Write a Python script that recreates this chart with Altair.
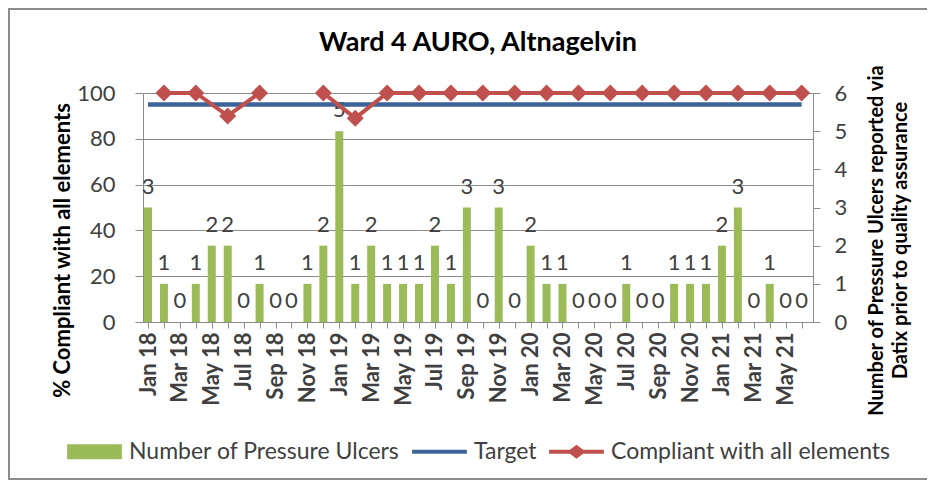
import altair as alt
import pandas as pd

months = ["Jan 18", "Feb 18", "Mar 18", "Apr 18", "May 18", "Jun 18", "Jul 18", "Aug 18",
          "Sep 18", "Oct 18", "Nov 18", "Dec 18",
          "Jan 19", "Feb 19", "Mar 19", "Apr 19", "May 19", "Jun 19", "Jul 19", "Aug 19",
          "Sep 19", "Oct 19", "Nov 19", "Dec 19",
          "Jan 20", "Feb 20", "Mar 20", "Apr 20", "May 20", "Jun 20", "Jul 20", "Aug 20",
          "Sep 20", "Oct 20", "Nov 20", "Dec 20",
          "Jan 21", "Feb 21", "Mar 21", "Apr 21", "May 21", "Jun 21"]

ulcers = [3, 1, 0, 1, 2, 2, 0, 1, 0, 0, 1, 2,
          5, 1, 2, 1, 1, 1, 2, 1, 3, 0, 3, 0,
          2, 1, 1, 0, 0, 0, 1, 0, 0, 1, 1, 1,
          2, 3, 0, 1, 0, 0]

comp_months = ["Feb 18", "Apr 18", "Jun 18", "Aug 18", "Oct 18", "Dec 18",
               "Feb 19", "Apr 19", "Jun 19", "Aug 19", "Oct 19", "Dec 19",
               "Feb 20", "Apr 20", "Jun 20", "Aug 20", "Oct 20", "Dec 20",
               "Feb 21", "Apr 21", "Jun 21"]
comp_values = [100, 100, 90, 100, None, 100,
               89, 100, 100, 100, 100, 100,
               100, 100, 100, 100, 100, 100,
               100, 100, 100]

target_months = ["Jan 18", "Jun 21"]
target_values = [95, 95]

series = ["Number of Pressure Ulcers", "Target", "Compliant with all elements"]
series_colors = ["#9BBB59", "#3C6499", "#C0504D"]
series_shapes = [
    "M-1,-0.27L1,-0.27L1,0.27L-1,0.27Z",
    "M-1,-0.07L1,-0.07L1,0.07L-1,0.07Z",
    "M-1,-0.07L-0.24,-0.07L0,-0.26L0.24,-0.07L1,-0.07L1,0.07L0.24,0.07L0,0.26L-0.24,0.07L-1,0.07Z",
]

FONT = "Lato"
GRAY = "#404040"
AXISGRAY = "#8C8C8C"

bar_df = pd.DataFrame({"idx": list(range(len(months))), "month": months, "count": ulcers})

rows = []
seg = 0
for m, v in zip(comp_months, comp_values):
    if v is None:
        seg += 1
        continue
    rows.append({"idx": months.index(m), "month": m, "pct": v, "seg": seg})
comp_df = pd.DataFrame(rows)

target_df = pd.DataFrame({"idx": [months.index(m) for m in target_months], "pct": target_values})
legend_df = pd.DataFrame({"series": series, "idx": [-10] * 3, "pct": [50] * 3})

label_array = "[" + ",".join("'" + m + "'" for m in months) + "]"
xscale = alt.Scale(domain=[0, 41.4], nice=False, zero=False)
xaxis = alt.Axis(
    values=list(range(len(months))),
    labelExpr="datum.value % 2 == 0 ? " + label_array + "[datum.value] : ''",
    labelAngle=270, labelAlign="right", labelBaseline="middle",
    labelFont=FONT, labelFontSize=22, labelFontWeight="bold", labelColor=GRAY,
    labelPadding=4, labelOverlap=False, labelFlush=False,
    tickSize=6, tickColor=AXISGRAY, domainColor=AXISGRAY, grid=False, title=None,
)
X = alt.X("idx:Q", scale=xscale, axis=xaxis)

right_axis = alt.Axis(
    orient="right", values=[0, 1, 2, 3, 4, 5, 6], grid=False,
    tickSize=7, tickColor=AXISGRAY, domainColor=AXISGRAY,
    labelFont=FONT, labelFontSize=22, labelColor=GRAY, labelPadding=14,
    title=["Number of Pressure Ulcers reported via", "Datix prior to quality assurance"],
    titleFont=FONT, titleFontSize=20, titleFontWeight="bold", titleColor="#000000",
    titleAngle=270, titleAlign="center", titleBaseline="top", titleLineHeight=24,
    titleX=53, titleY=147,
)
count_scale = alt.Scale(domain=[0, 6], nice=False)

bars = alt.Chart(bar_df).mark_bar(size=8, color="#9BBB59", clip=True).encode(
    x=X,
    y=alt.Y("count:Q", scale=count_scale, axis=right_axis),
)
bar_text = alt.Chart(bar_df).mark_text(
    font=FONT, fontSize=22, color=GRAY, baseline="bottom", dy=-9
).encode(
    x=X,
    y=alt.Y("count:Q", scale=count_scale, axis=right_axis),
    text="count:Q",
)

left_axis = alt.Axis(
    orient="left", values=[0, 20, 40, 60, 80, 100], grid=True,
    gridColor=AXISGRAY, gridWidth=1,
    tickSize=8, tickColor=AXISGRAY, domainColor=AXISGRAY,
    labelFont=FONT, labelFontSize=22, labelColor=GRAY, labelPadding=20,
    title="% Compliant with all elements",
    titleFont=FONT, titleFontSize=22, titleFontWeight="bold", titleColor="#000000",
    titleAngle=270, titleAlign="center", titleBaseline="middle",
    titleX=-81, titleY=157,
)
pct_scale = alt.Scale(domain=[0, 100], nice=False)

target = alt.Chart(target_df).mark_line(color="#3C6499", strokeWidth=4.5).encode(
    x=X, y=alt.Y("pct:Q", scale=pct_scale, axis=left_axis),
)
comp_line = alt.Chart(comp_df).mark_line(color="#C0504D", strokeWidth=4).encode(
    x=X, y=alt.Y("pct:Q", scale=pct_scale, axis=left_axis), detail="seg:N",
)
comp_pts = alt.Chart(comp_df).mark_point(
    shape="diamond", filled=True, size=290, color="#C0504D", opacity=1
).encode(
    x=X, y=alt.Y("pct:Q", scale=pct_scale, axis=left_axis),
)
legend_pts = alt.Chart(legend_df).mark_point(filled=True, clip=True).encode(
    x=X,
    y=alt.Y("pct:Q", scale=pct_scale, axis=left_axis),
    color=alt.Color("series:N", scale=alt.Scale(domain=series, range=series_colors),
                    legend=alt.Legend(title=None, orient="none", legendX=-76, legendY=331,
                                      direction="horizontal", columns=3,
                                      symbolSize=3000, symbolStrokeWidth=0,
                                      symbolOpacity=1, labelFont=FONT, labelFontSize=23,
                                      labelColor=GRAY, labelOffset=7, columnPadding=12,
                                      labelLimit=400)),
    shape=alt.Shape("series:N", scale=alt.Scale(domain=series, range=series_shapes),
                    legend=None),
)

frame_df = pd.DataFrame({"k": [0]})
frame = alt.Chart(frame_df).mark_rect(
    fillOpacity=0, stroke="#8C8C8C", strokeWidth=2, clip=False
).encode(
    x=alt.value(-134), x2=alt.value(800), y=alt.value(-84), y2=alt.value(386),
)

count_layer = alt.layer(bars, bar_text)
pct_layer = alt.layer(target, comp_line, comp_pts, legend_pts)

chart = alt.layer(count_layer, pct_layer, frame).resolve_scale(
    y="independent"
).properties(
    width=670, height=229,
    autosize=alt.AutoSizeParams(type="none"),
    padding={"left": 135, "top": 85, "right": 114, "bottom": 158},
    title=alt.Title("Ward 4 AURO, Altnagelvin", font=FONT, fontSize=27,
                    fontWeight="bold", color="#000000", anchor="middle", offset=-49),
    background="white",
).configure_view(stroke=None)

chart.save("out.html", embed_options={"renderer": "svg", "actions": False})
